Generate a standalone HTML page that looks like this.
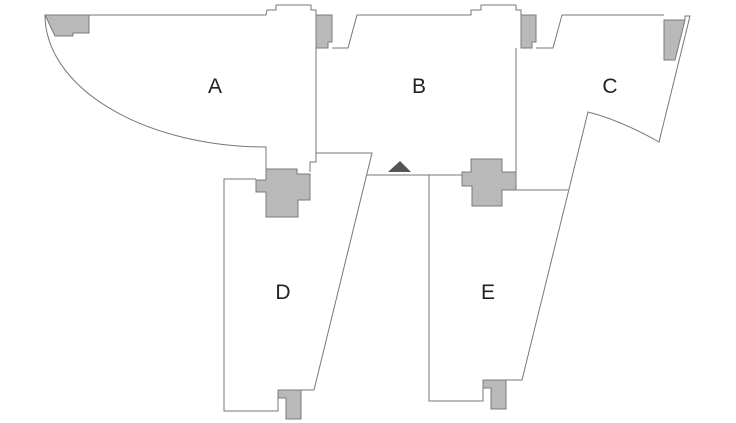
<!DOCTYPE html>
<html><head><meta charset="utf-8"><style>
html,body{margin:0;padding:0;background:#fff;width:736px;height:423px;overflow:hidden}
svg{display:block}
text{font-family:"Liberation Sans",sans-serif;font-size:21px;fill:#222}
</style></head><body>
<svg width="736" height="423" viewBox="0 0 736 423" xmlns="http://www.w3.org/2000/svg">
<g fill="none" stroke="#777" stroke-width="1">
<!-- A -->
<path d="M45,15 L266,15 L267,10 L276,10 L276,5 L311,5 L311,10 L316,10 L316,162 L310,162 L310,172"/>
<path d="M45,15 A221 132 0 0 0 266,147 L266,170"/>
<!-- B -->
<path d="M332,48 L348,48 L357,15 L471,15 L471,10 L481,10 L481,5 L516,5 L516,10 L521,10 L521,15"/>
<path d="M516,48 L516,190 L568,190"/>
<path d="M316,153 L372,153 L314,390"/>
<path d="M367,175 L462,175"/>
<!-- C -->
<path d="M536,48 L553,48 L562,15 L664,15"/>
<path d="M685,20 L685,16 L690,16 L659,142 Q620,120 588,112 L522,380 L483,380"/>
<!-- D -->
<path d="M256,179 L224,179 L224,411 L278,411 L278,390 L314,390"/>
<!-- E -->
<path d="M429,175 L429,401 L483,401 L483,388"/>
</g>
<g fill="#b9b9b9" stroke="#7a7a7a" stroke-width="1">
<path d="M45,15 L89,15 L89,33 L73,33 L73,36 L55,36 Z"/>
<path d="M316,15 L332,15 L332,42 L328,42 L328,48 L316,48 Z"/>
<path d="M521,15 L536,15 L536,42 L532,42 L532,48 L521,48 Z"/>
<path d="M664,20 L685,20 L675,60 L664,60 Z"/>
<path d="M266,169 L297,169 L297,174 L310,174 L310,200 L298,200 L298,217 L266,217 L266,192 L256,192 L256,180 L266,180 Z"/>
<path d="M471,159 L502,159 L502,172 L516,172 L516,190 L502,190 L502,206 L472,206 L472,186 L462,186 L462,172 L471,172 Z"/>
<path d="M278,390 L301,390 L301,419 L286,419 L286,398 L278,398 Z"/>
<path d="M483,380 L506,380 L506,409 L491,409 L491,388 L483,388 Z"/>
</g>
<path d="M388,172 L400,161 L411,172 Z" fill="#555"/>
<text x="215" y="93" text-anchor="middle">A</text>
<text x="419" y="93" text-anchor="middle">B</text>
<text x="610" y="93" text-anchor="middle">C</text>
<text x="283" y="299" text-anchor="middle">D</text>
<text x="488" y="299" text-anchor="middle">E</text>
</svg>
</body></html>
